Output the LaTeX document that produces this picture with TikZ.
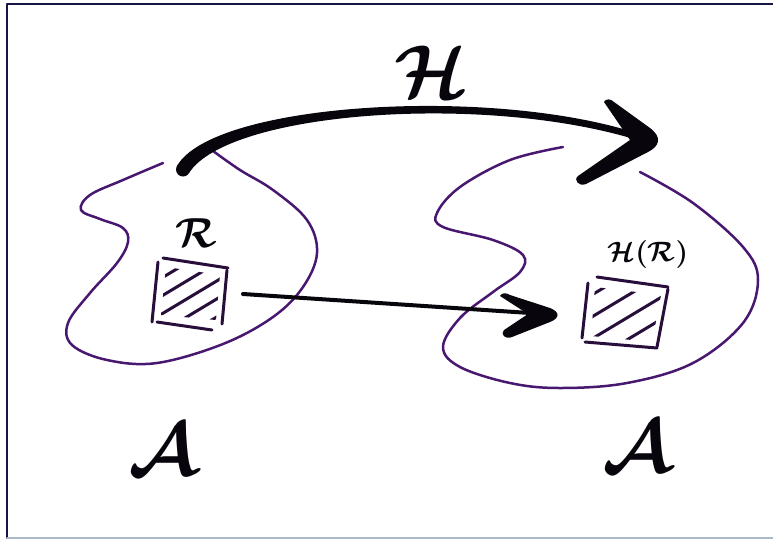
\documentclass[tikz,border=0pt]{standalone}
\usepackage{amsmath}
\definecolor{blobc}{RGB}{72,24,112}
\definecolor{sqc}{RGB}{40,14,58}
\definecolor{inkc}{RGB}{8,6,12}
\definecolor{framec}{RGB}{22,22,70}
\definecolor{faintc}{RGB}{170,185,200}
\begin{document}
\begin{tikzpicture}[x=1pt,y=-1pt,line cap=round,line join=round,
  blob/.style={draw=blobc,line width=2.5pt},
  sq/.style={draw=sqc,line width=3pt},
  hatchline/.style={draw=sqc,line width=3pt},
  lbl/.style={inner sep=0pt,text=inkc},
  shaft/.style={draw=inkc,line width=4pt}]
\useasboundingbox (0,0) rectangle (773,541);
% frame
\draw[framec,line width=1.6pt] (773,4) -- (7,4) -- (7,538);
\draw[faintc,line width=1.2pt] (7,538) -- (773,538);
% left blob
\draw[blob] plot[smooth,tension=0.6] coordinates {(163,163) (123,180) (90,195) (81,210) (100,219) (123,228) (128,242) (117,263) (90,293) (68,323) (72,345) (107,360) (157,363) (223,344) (273,317) (303,287) (317,253) (307,220) (273,190) (240,170) (213,151)};
% right blob
\draw[blob] plot[smooth,tension=0.6] coordinates {(563,147) (510,160) (460,187) (437,213) (443,227) (493,240) (523,255) (520,272) (493,292) (460,318) (443,347) (460,367) (510,383) (560,388) (627,383) (693,363) (743,323) (758,280) (743,247) (693,203) (640,172)};
% left square
\draw[sq] (163,258) -- (228,268);
\draw[sq] (158,262) -- (152,322);
\draw[sq] (157,322) -- (212,330);
\draw[sq] (227,270) -- (222,324);
\begin{scope}
\clip (166,267) -- (220,275) -- (216,320) -- (161,315) -- cycle;
\foreach \c in {375,393,411,429,447} \draw[hatchline] (140,{\c-0.6*140}) -- (250,{\c-0.6*250});
\end{scope}
% right square
\draw[sq] (597,277) -- (668,287);
\draw[sq] (588,283) -- (582,338);
\draw[sq] (585,342) -- (657,348);
\draw[sq] (668,289) -- (657,347);
\begin{scope}
\clip (595,287) -- (661,295) -- (652,342) -- (591,336) -- cycle;
\foreach \c in {650,672,694,716,738} \draw[hatchline] (570,{\c-0.6*570}) -- (690,{\c-0.6*690});
\end{scope}
% labels
\node[lbl,scale=4.2] (R) at (196,233) {$\boldsymbol{\mathcal{R}}$};
\node[lbl,scale=2.8] (HR) at (648,254) {$\boldsymbol{\mathcal{H}(\mathcal{R})}$};
\node[lbl,scale=7.5] (H) at (432,72) {$\boldsymbol{\mathcal{H}}$};
\node[lbl,scale=7.5] (A1) at (163,450) {$\boldsymbol{\mathcal{A}}$};
\node[lbl,scale=7.5] (A2) at (637,447) {$\boldsymbol{\mathcal{A}}$};
% thick curved arrow
\coordinate (hs) at (183,169.5);
\coordinate (ht) at (657,142);
\fill[inkc] (177,166) .. controls (212,104) and (480,86) .. (630,131) -- (634,139) .. controls (480,93) and (228,112) .. (189,173) -- cycle;
\fill[inkc] (hs) circle (7);
\fill[inkc] (604,102) .. controls (606,98) and (611,99) .. (614,102) -- (650,128) .. controls (662,137) and (660,146) .. (648,152) -- (586,184) .. controls (579,187) and (573,180) .. (578,176) -- (630,140) -- cycle;
% straight arrow
\coordinate (ls) at (243,294);
\coordinate (le) at (530,313);
\draw[shaft] (ls) -- (le);
\fill[inkc] (500,296) .. controls (502,292) and (507,293) .. (510,295) -- (550,308) .. controls (560,312) and (560,318) .. (550,322) -- (512,337) .. controls (505,340) and (500,334) .. (504,330) -- (528,314) -- cycle;
\end{tikzpicture}
\end{document}
